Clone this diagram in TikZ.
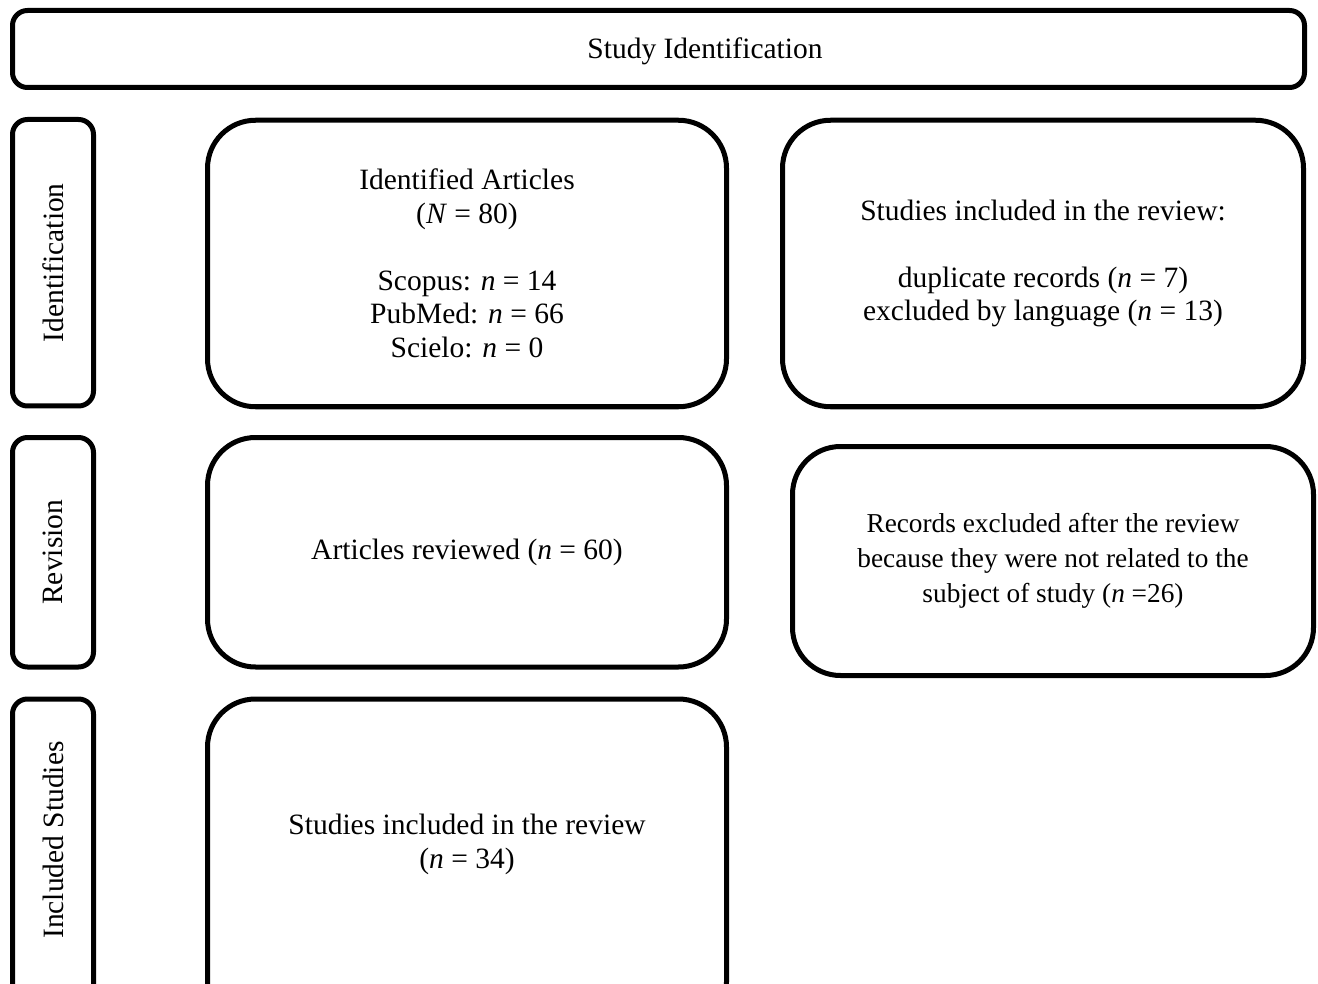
\documentclass[tikz,border=0pt]{standalone}
\usepackage{fontspec}
\setmainfont{Liberation Serif}
\begin{document}
\begin{tikzpicture}[x=1pt,y=-1pt,
  box/.style={draw=black,line width=5pt,rounded corners=48pt,inner sep=0pt,align=center,
    font=\fontsize{29.5}{33.5}\selectfont},
  labbox/.style={draw=black,line width=5pt,rounded corners=15pt,inner sep=0pt,align=center,
    font=\fontsize{29.5}{33.5}\selectfont},
  txt/.style={inner sep=0pt,align=center,font=\fontsize{29.5}{33.5}\selectfont}]
\useasboundingbox (0,0) rectangle (1318,984);
\clip (0,0) rectangle (1318,984);
% header
\node[labbox,minimum width=1292pt,minimum height=77pt] (top) at (658.5,49) {};
\node[txt] (toptxt) at (705,51) {Study Identification};
% stage labels
\node[labbox,rotate=90,minimum width=286.5pt,minimum height=81pt] (idlab) at (53,262.75) {Identification};
\node[labbox,rotate=90,minimum width=229.5pt,minimum height=81pt] (revlab) at (53,552.25) {Revision};
\node[labbox,minimum width=81pt,minimum height=331pt] (inclab) at (53,864.5) {};
\node[txt,rotate=90] (inctxt) at (53,840) {Included Studies};
% main boxes
\node[box,minimum width=519pt,minimum height=286.5pt] (idart) at (467,263.5)
  {Identified Articles\\(\textit{N} = 80)\\[33.5pt]Scopus: \textit{n} = 14\\PubMed: \textit{n} = 66\\Scielo: \textit{n} = 0};
\node[box,minimum width=521pt,minimum height=286.5pt] (dup) at (1043,263.5)
  {Studies included in the review:\\[33.5pt]duplicate records (\textit{n} = 7)\\excluded by language (\textit{n} = 13)};
\node[box,minimum width=519pt,minimum height=229.5pt] (rev) at (467,552.25)
  {Articles reviewed (\textit{n} = 60)};
\node[box,minimum width=521pt,minimum height=229pt,font=\fontsize{27.3}{35}\selectfont] (excl) at (1053,561)
  {Records excluded after the review\\because they were not related to the\\subject of study (\textit{n} =26)};
\node[box,minimum width=519pt,minimum height=331pt] (inc) at (467,864.5) {};
\node[txt] (inctext) at (467,844.5) {Studies included in the review\\(\textit{n} = 34)};
\end{tikzpicture}
\end{document}
